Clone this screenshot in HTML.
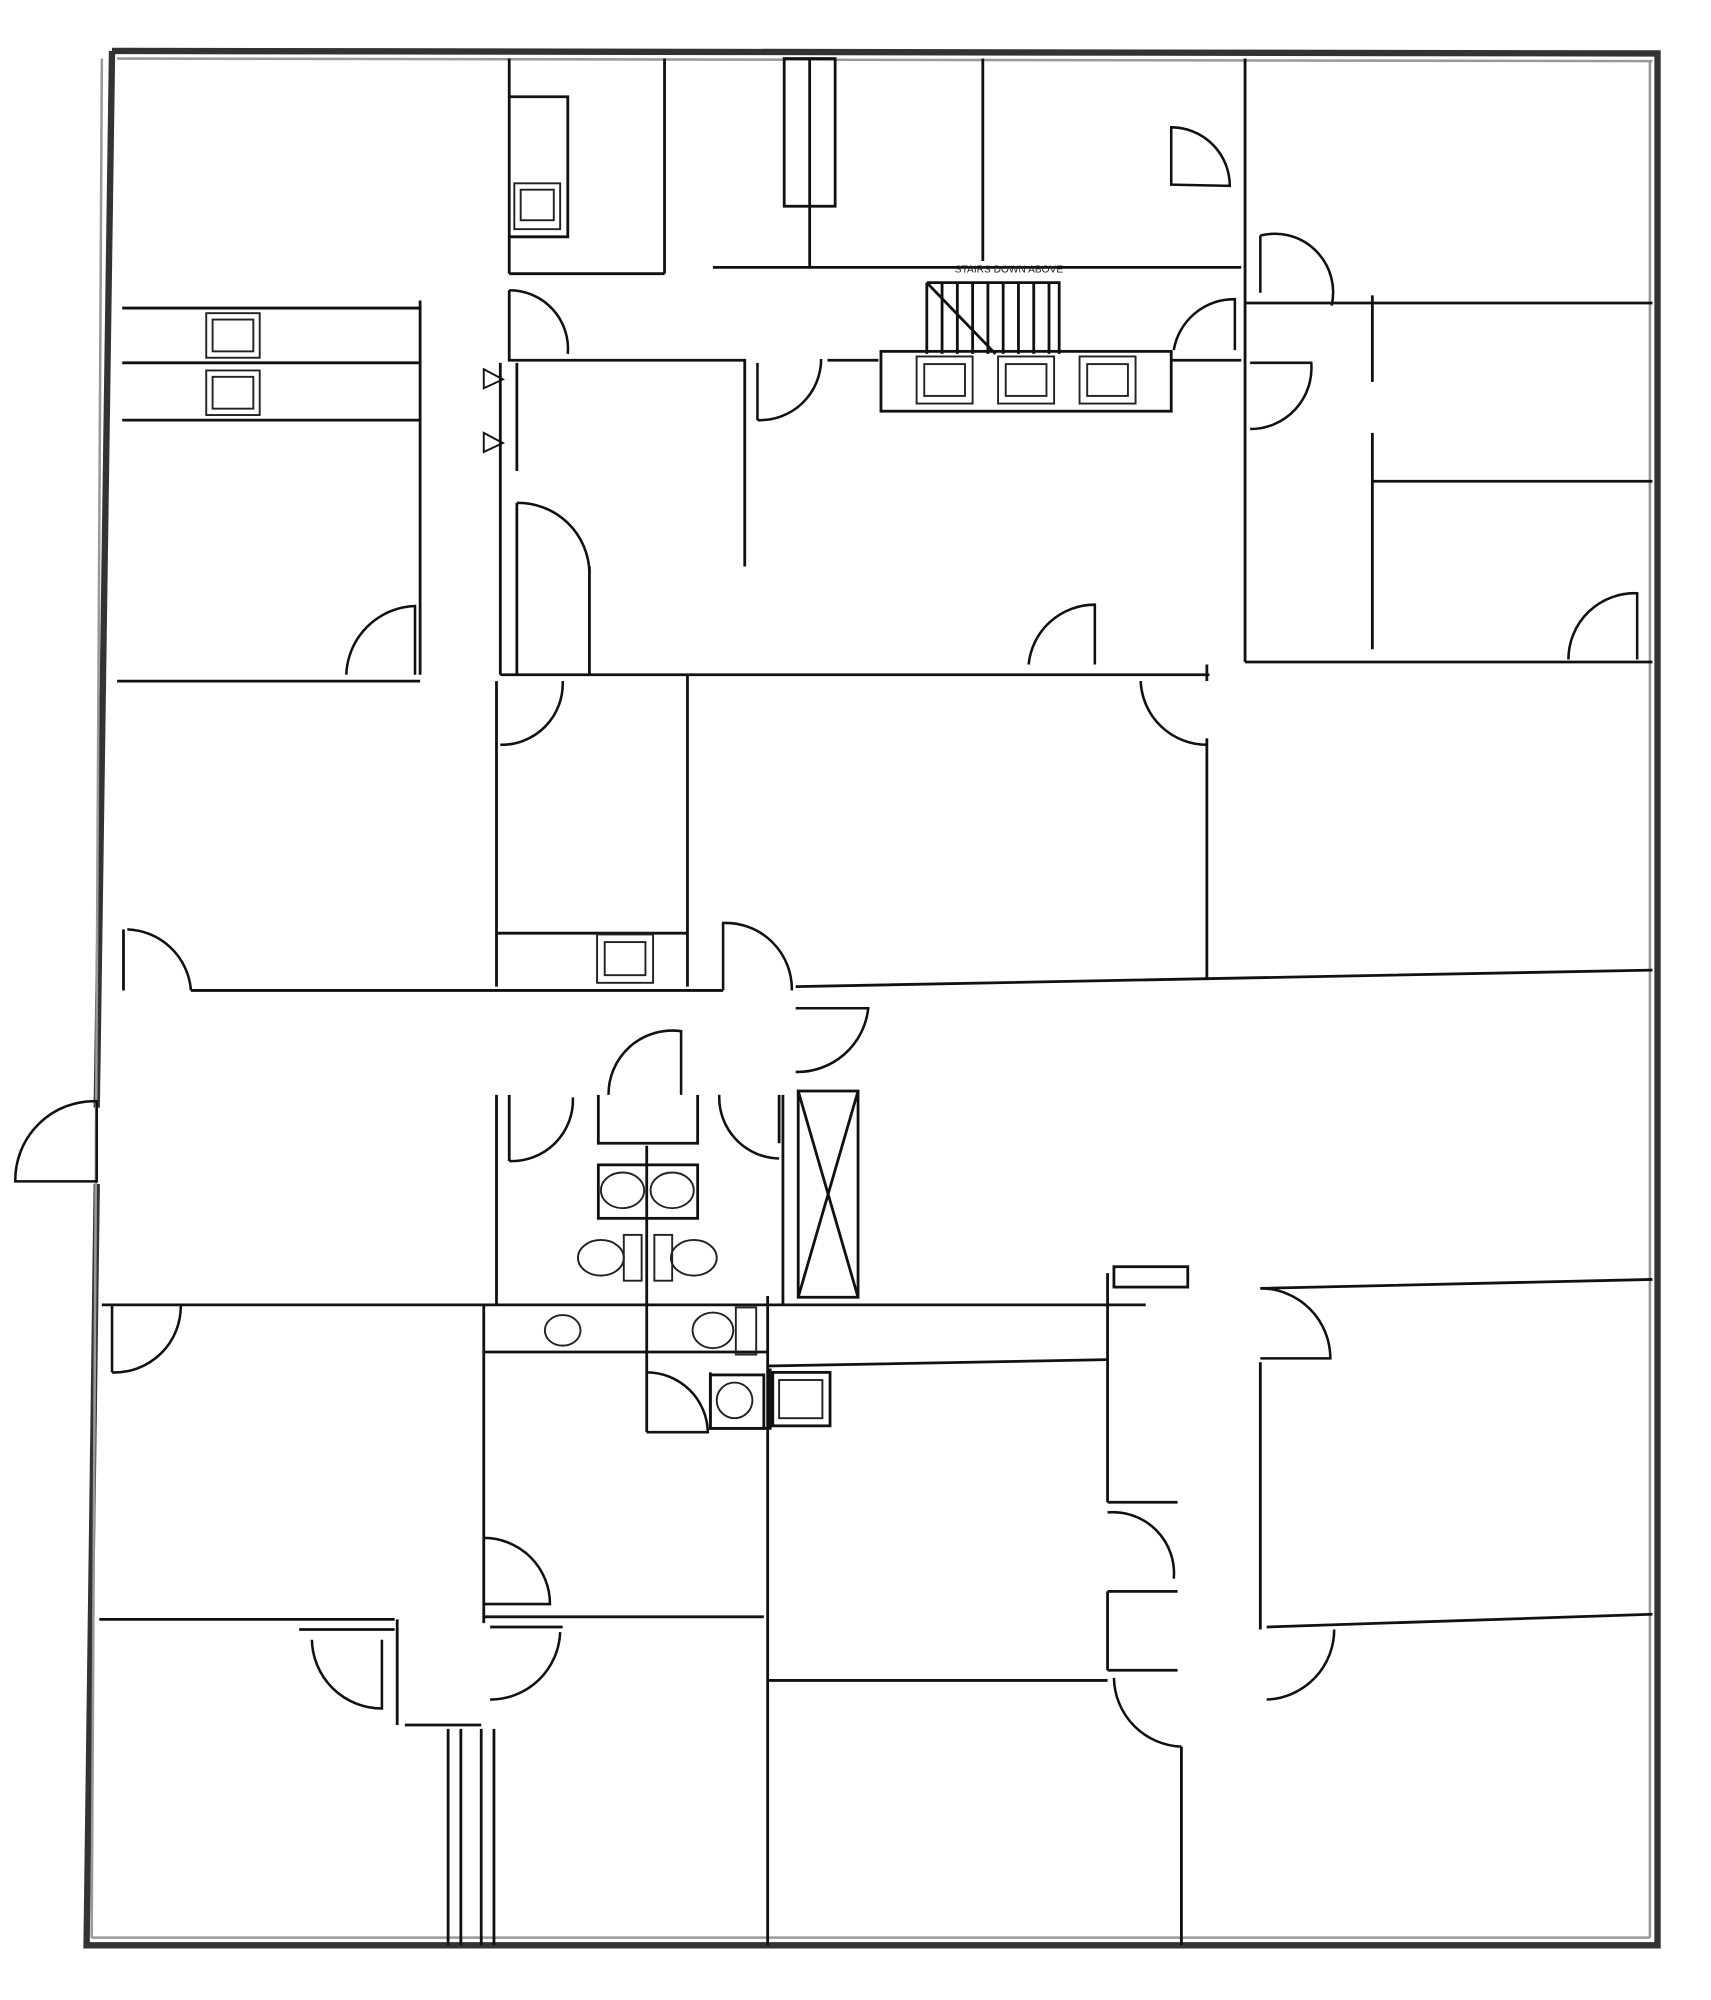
<!DOCTYPE html>
<html><head><meta charset="utf-8"><style>
html,body{margin:0;padding:0;background:#fff;}
svg{display:block;}
</style></head><body>
<svg width="1711" height="2000" viewBox="0 0 1344 1571" xmlns="http://www.w3.org/2000/svg" preserveAspectRatio="none">
<rect width="1344" height="1571" fill="#fff"/>
<g fill="none" stroke="#333" stroke-width="5">
<!-- outer walls -->
<path d="M88,40 L1302,42 L1302,1528 L68,1528 L76,930 M76,870 L88,40"/>
</g>
<g fill="none" stroke="#999" stroke-width="2">
<path d="M92,46 L1298,48 M1296,48 L1296,1522 M72,1522 L1296,1522 M80,46 L72,1522"/>
</g>
<g fill="none" stroke="#111" stroke-width="2.2">
<!-- top area -->
<path d="M400,46 V215 M522,46 V215 M400,215 H522"/>
<path d="M400,76 H446 V186 H400"/>
<rect x="616" y="46" width="40" height="116"/>
<path d="M636,46 V210 M772,46 V205 M560,210 H975 M978,46 V520"/>
<path d="M978,238 H1298 M1078,378 H1298 M1078,232 V300 M1078,340 V510 M978,520 H1298"/>
<path d="M400,228 V283 H585 V445 M650,283 H690 M920,283 H975"/>
<rect x="692" y="276" width="228" height="47"/>
<path d="M728,222 H832 V278 M728,222 V278 M728,222 L782,278"/>
<path d="M740,222 V278 M752,222 V278 M764,222 V278 M776,222 V278 M788,222 V278 M800,222 V278 M812,222 V278 M824,222 V278"/>
<path d="M393,285 V530 M406,285 V370 M406,395 V530 M463,445 V530 M393,530 H950"/>
<path d="M96,242 H330 M96,285 H330 M96,330 H330 M330,236 V530 M92,535 H330"/>
<path d="M390,535 V775 M540,530 V775 M390,733 H540 M948,580 V768 M948,522 V535"/>
<path d="M97,730 V778 M150,778 H390 H568 M625,775 L1298,762"/>
<path d="M80,1025 H900 M990,1012 L1298,1005"/>
<path d="M390,860 V1025 M400,860 V912 M470,860 V898 H548 V860 M615,860 V1025 M612,860 V898"/>
<rect x="627" y="857" width="47" height="162"/>
<path d="M627,857 L674,1019 M674,857 L627,1019"/>
<rect x="470" y="915" width="78" height="42"/>
<path d="M508,900 V1125 M380,1025 V1262 M380,1062 H603 M603,1018 V1528 M603,1073 L870,1068"/>
<path d="M603,1320 H870 M78,1272 H310 M380,1270 H600 M235,1280 H310 M385,1278 H442"/>
<path d="M312,1272 V1355 M380,1262 V1275 M318,1355 H378 M352,1358 V1528 M362,1358 V1528 M378,1358 V1528 M388,1358 V1528"/>
<path d="M870,1000 V1180 M870,1250 V1312 M870,1180 H925 M870,1250 H925 M870,1312 H925 M928,1372 V1528 M990,1070 V1280 M995,1278 L1298,1268"/>
<rect x="875" y="995" width="58" height="16"/>
<path d="M605,1075 V1122 H558 V1078"/>
<rect x="607" y="1078" width="45" height="42"/>
<rect x="558" y="1080" width="42" height="42"/>
</g>
<!-- door arcs -->
<g fill="none" stroke="#111" stroke-width="2">
<path d="M920,145 V100 A46,46 0 0 1 966,146 Z"/>
<path d="M990,185 V230 M990,185 A46,46 0 0 1 1046,240"/>
<path d="M400,228 A46,46 0 0 1 446,278"/>
<path d="M595,330 V285 M595,330 A48,48 0 0 0 645,282"/>
<path d="M922,275 A48,48 0 0 1 970,235 V275"/>
<path d="M982,337 A48,48 0 0 0 1030,285 H982"/>
<path d="M406,395 A56,56 0 0 1 463,450"/>
<path d="M272,530 A56,56 0 0 1 326,476 V530"/>
<path d="M808,522 A52,52 0 0 1 860,475 V522"/>
<path d="M1232,518 A52,52 0 0 1 1286,466 V518"/>
<path d="M393,585 A48,48 0 0 0 442,535"/>
<path d="M896,535 A52,52 0 0 0 948,585"/>
<path d="M100,730 A52,52 0 0 1 150,778"/>
<path d="M568,778 V725 A52,52 0 0 1 622,778"/>
<path d="M625,842 A56,56 0 0 0 682,792 H625"/>
<path d="M12,928 A62,62 0 0 1 76,865 V928 Z"/>
<path d="M88,1078 V1025 M88,1078 A52,52 0 0 0 142,1025"/>
<path d="M400,912 A48,48 0 0 0 450,862"/>
<path d="M478,860 A50,50 0 0 1 535,810 V860"/>
<path d="M565,860 A48,48 0 0 0 612,910"/>
<path d="M380,1208 A52,52 0 0 1 432,1260 H380"/>
<path d="M245,1288 A55,55 0 0 0 300,1342 V1288"/>
<path d="M385,1335 A55,55 0 0 0 440,1282"/>
<path d="M990,1012 A55,55 0 0 1 1045,1067 H990"/>
<path d="M995,1335 A55,55 0 0 0 1048,1280"/>
<path d="M870,1188 A48,48 0 0 1 922,1240"/>
<path d="M875,1318 A55,55 0 0 0 928,1372"/>
<path d="M508,1078 A48,48 0 0 1 556,1125 H508"/>
</g>
<!-- fixtures -->
<g fill="none" stroke="#222" stroke-width="1.5">
<rect x="404" y="144" width="36" height="36"/><rect x="409" y="149" width="26" height="24"/>
<rect x="162" y="246" width="42" height="35"/><rect x="167" y="251" width="32" height="25"/>
<rect x="162" y="291" width="42" height="35"/><rect x="167" y="296" width="32" height="25"/>
<rect x="720" y="280" width="44" height="37"/><rect x="726" y="286" width="32" height="25"/>
<rect x="784" y="280" width="44" height="37"/><rect x="790" y="286" width="32" height="25"/>
<rect x="848" y="280" width="44" height="37"/><rect x="854" y="286" width="32" height="25"/>
<rect x="469" y="734" width="44" height="38"/><rect x="475" y="740" width="32" height="26"/>
<ellipse cx="489" cy="935" rx="17" ry="14"/><ellipse cx="528" cy="935" rx="17" ry="14"/>
<ellipse cx="472" cy="988" rx="18" ry="14"/><ellipse cx="545" cy="988" rx="18" ry="14"/>
<rect x="490" y="970" width="14" height="36"/><rect x="514" y="970" width="14" height="36"/>
<ellipse cx="442" cy="1045" rx="14" ry="12"/>
<ellipse cx="560" cy="1045" rx="16" ry="14"/><rect x="578" y="1027" width="16" height="37"/>
<ellipse cx="577" cy="1100" rx="14" ry="14"/>
<rect x="612" y="1084" width="34" height="30"/>
</g>
<g fill="none" stroke="#111" stroke-width="1.5">
<path d="M380,290 L395,298 L380,305 Z M380,340 L395,348 L380,355 Z"/>
</g>
<text x="750" y="214" font-family="Liberation Sans, sans-serif" font-size="8" fill="#222">STAIRS DOWN ABOVE</text>
</svg>
</body></html>
